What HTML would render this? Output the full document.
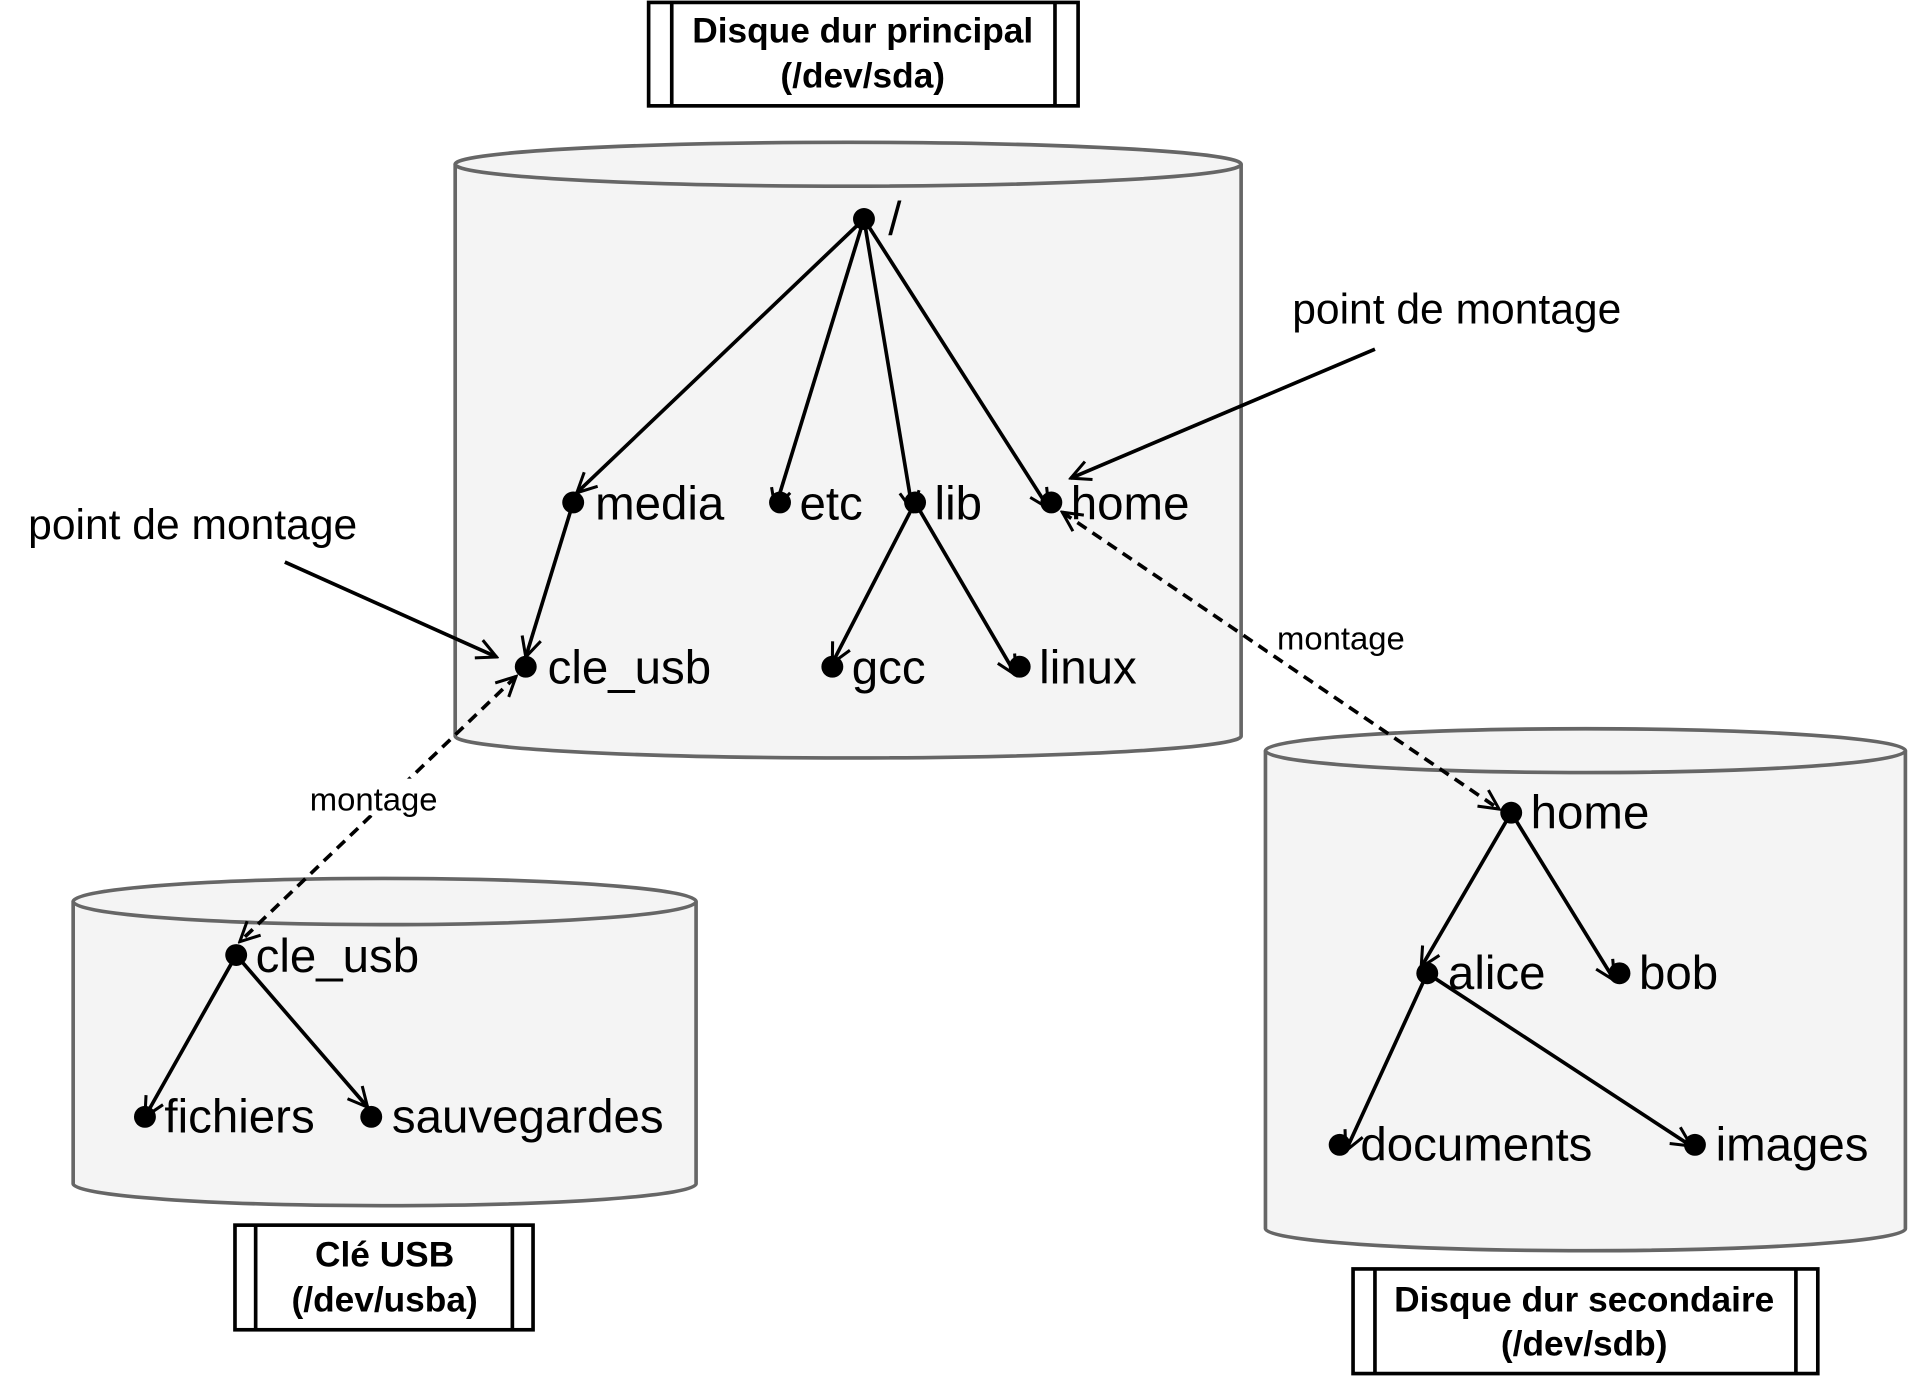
<!DOCTYPE html>
<html><head><meta charset="utf-8"><style>html,body{margin:0;padding:0;background:#fff}svg{display:block}</style></head>
<body>
<svg width="1908" height="1376" viewBox="0 0 1568 1131" xmlns="http://www.w3.org/2000/svg" font-family="Liberation Sans, sans-serif">
<defs>
<marker id="a" viewBox="0 0 20 20" refX="18" refY="10" markerWidth="20" markerHeight="20" markerUnits="userSpaceOnUse" orient="auto-start-reverse">
<path d="M2,2 L18,10 L2,18" fill="none" stroke="#000" stroke-width="2.5"/></marker>
</defs>
<g fill="#f4f4f4" stroke="#666" stroke-width="3">
<path d="M374,135 L374,605 A323,18 0 0 0 1020,605 L1020,135"/>
<ellipse cx="697" cy="135" rx="323" ry="18"/>
<path d="M60,741 L60,973 A256,18 0 0 0 572,973 L572,741"/>
<ellipse cx="316" cy="741" rx="256" ry="19"/>
<path d="M1040,617 L1040,1010 A263,18 0 0 0 1566,1010 L1566,617"/>
<ellipse cx="1303" cy="617" rx="263" ry="18"/>
</g>
<g fill="#fff" stroke="#000" stroke-width="3">
<rect x="533" y="2" width="353" height="85"/><line x1="552" y1="2" x2="552" y2="87"/><line x1="867" y1="2" x2="867" y2="87"/>
<rect x="193" y="1007" width="245" height="86"/><line x1="210" y1="1007" x2="210" y2="1093"/><line x1="421" y1="1007" x2="421" y2="1093"/>
<rect x="1112" y="1043" width="382" height="86"/><line x1="1130" y1="1043" x2="1130" y2="1129"/><line x1="1476" y1="1043" x2="1476" y2="1129"/>
</g>
<g font-weight="bold" font-size="29" text-anchor="middle">
<text x="709" y="35">Disque dur principal</text><text x="709" y="72">(/dev/sda)</text>
<text x="316" y="1041">Clé USB</text><text x="316" y="1078">(/dev/usba)</text>
<text x="1302" y="1078">Disque dur secondaire</text><text x="1302" y="1114">(/dev/sdb)</text>
</g>
<g stroke="#000" stroke-width="3" fill="none" marker-end="url(#a)">
<line x1="710" y1="180" x2="474" y2="405"/>
<line x1="710" y1="180" x2="637" y2="418"/>
<line x1="710" y1="180" x2="750" y2="420"/>
<line x1="710" y1="180" x2="862" y2="418"/>
<line x1="471" y1="413" x2="432" y2="540"/>
<line x1="752" y1="413" x2="684" y2="545"/>
<line x1="752" y1="413" x2="835" y2="555"/>
<line x1="194" y1="785" x2="119" y2="918"/>
<line x1="194" y1="785" x2="302" y2="910"/>
<line x1="1242" y1="668" x2="1168" y2="795"/>
<line x1="1242" y1="668" x2="1327" y2="806"/>
<line x1="1173" y1="800" x2="1106" y2="946"/>
<line x1="1173" y1="800" x2="1390" y2="942"/>
<line x1="1130" y1="287" x2="880" y2="393"/>
<line x1="234" y1="462" x2="408" y2="540"/>
</g>
<g stroke="#000" stroke-width="3" fill="none" stroke-dasharray="9,6" marker-end="url(#a)" marker-start="url(#a)">
<line x1="424" y1="556" x2="197" y2="774"/>
<line x1="873" y1="421" x2="1232" y2="665"/>
</g>
<g fill="#000">
<circle cx="710" cy="180" r="9"/><circle cx="471" cy="413" r="9"/><circle cx="641" cy="413" r="9"/><circle cx="752" cy="413" r="9"/><circle cx="864" cy="413" r="9"/>
<circle cx="432" cy="548" r="9"/><circle cx="684" cy="548" r="9"/><circle cx="838" cy="548" r="9"/>
<circle cx="194" cy="785" r="9"/><circle cx="119" cy="918" r="9"/><circle cx="305" cy="918" r="9"/>
<circle cx="1242" cy="668" r="9"/><circle cx="1173" cy="800" r="9"/><circle cx="1331" cy="800" r="9"/><circle cx="1101" cy="941" r="9"/><circle cx="1393" cy="941" r="9"/>
</g>
<g font-size="39" fill="#000">
<text x="730" y="193">/</text>
<text x="489" y="427">media</text><text x="657" y="427">etc</text><text x="768" y="427">lib</text><text x="880" y="427">home</text>
<text x="450" y="562">cle_usb</text><text x="700" y="562">gcc</text><text x="854" y="562">linux</text>
<text x="210" y="799">cle_usb</text><text x="135" y="931">fichiers</text><text x="322" y="931">sauvegardes</text>
<text x="1258" y="681">home</text><text x="1190" y="813">alice</text><text x="1347" y="813">bob</text><text x="1118" y="954">documents</text><text x="1410" y="954">images</text>
</g>
<g font-size="35" fill="#000">
<text x="1062" y="266">point de montage</text><text x="23" y="443">point de montage</text>
</g>
<g font-size="27" fill="#000" text-anchor="middle">
<rect x="250" y="640" width="115" height="30" fill="#fff"/>
<rect x="1042" y="508" width="120" height="30" fill="#fff"/>
<text x="307" y="666">montage</text><text x="1102" y="534">montage</text>
</g>
</svg>
</body></html>
